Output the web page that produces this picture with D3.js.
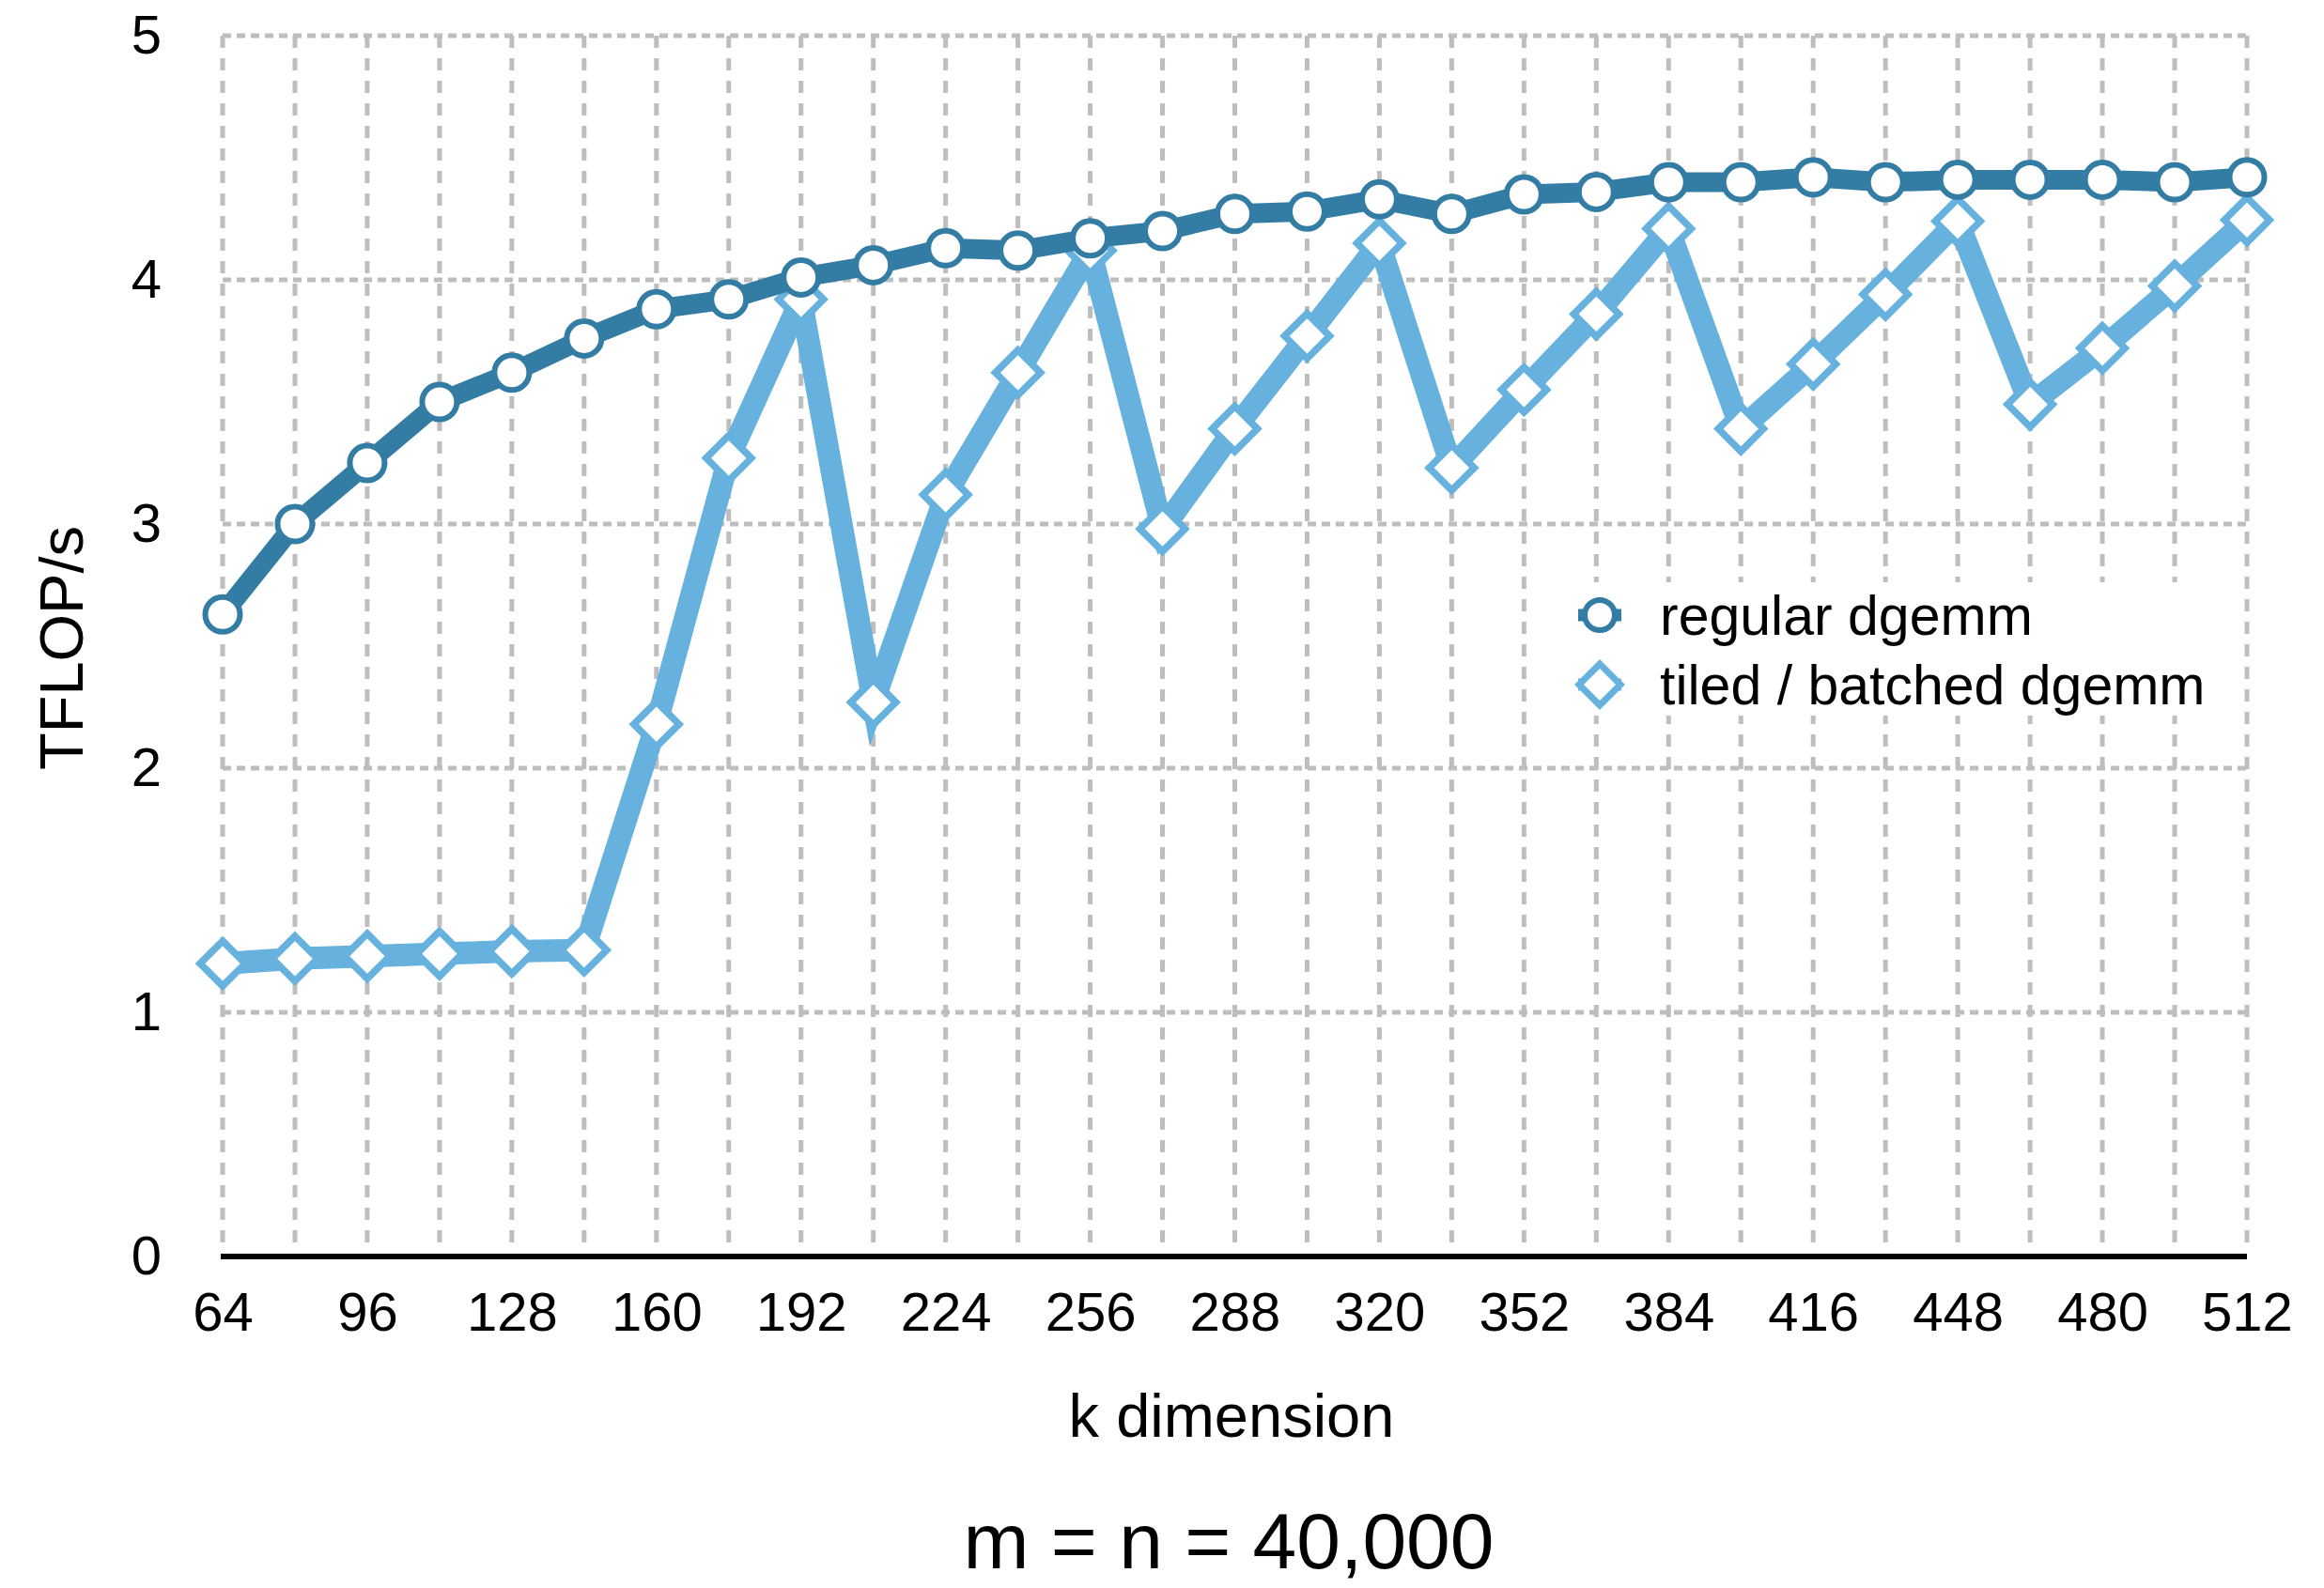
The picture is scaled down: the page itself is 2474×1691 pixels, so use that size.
<!DOCTYPE html>
<html>
<head>
<meta charset="utf-8">
<script src="https://cdn.jsdelivr.net/npm/d3@7"></script>
<style>
  html, body { margin: 0; padding: 0; background: #fff; }
  svg { display: block; }
  text { font-family: 'Liberation Sans', Arial, Helvetica, sans-serif; fill: #000; }
</style>
</head>
<body>
<svg id="chart"></svg>
<script>
// ── DATA ──────────────────────────────────────────────────────────────────────

const kValues = [64, 80, 96, 112, 128, 144, 160, 176, 192, 208, 224, 240, 256, 272, 288,
                 304, 320, 336, 352, 368, 384, 400, 416, 432, 448, 464, 480, 496, 512];

const regularDgemm = [2.63, 3.00, 3.25, 3.50, 3.62, 3.76, 3.88, 3.92, 4.01, 4.06, 4.13, 4.12, 4.17, 4.20, 4.27,
                      4.28, 4.33, 4.27, 4.35, 4.36, 4.40, 4.40, 4.42, 4.40, 4.41, 4.41, 4.41, 4.40, 4.42];

const tiledDgemm = [1.20, 1.22, 1.23, 1.24, 1.25, 1.255, 2.18, 3.27, 3.92, 2.27, 3.12, 3.62, 4.12, 2.98, 3.39,
                    3.77, 4.15, 3.23, 3.55, 3.86, 4.21, 3.39, 3.655, 3.94, 4.24, 3.49, 3.72, 3.975, 4.245];

const xTickLabels = [64, 96, 128, 160, 192, 224, 256, 288, 320, 352, 384, 416, 448, 480, 512];
const yTicks      = [0, 1, 2, 3, 4, 5];
const seriesNames = ['regular dgemm', 'tiled / batched dgemm'];

// ── LAYOUT ────────────────────────────────────────────────────────────────────

const W = 2474, H = 1691;
const COLOR_REG   = '#337da5';
const COLOR_TILED = '#66b1de';
const GRID        = '#bebebe';

const svg = d3.select('#chart').attr('width', W).attr('height', H);

const x = d3.scaleLinear().domain([64, 512]).range([237, 2392]);
const y = d3.scaleLinear().domain([0, 5]).range([1338, 38]);

// ── GRID ──────────────────────────────────────────────────────────────────────

const grid = svg.append('g').attr('class', 'grid');

grid.selectAll('line.vgrid')
  .data(kValues)
  .join('line')
  .attr('class', 'vgrid')
  .attr('x1', d => x(d)).attr('x2', d => x(d))
  .attr('y1', y(5)).attr('y2', y(0) - 7)
  .attr('stroke', GRID)
  .attr('stroke-width', 5)
  .attr('stroke-dasharray', '13 11');

grid.selectAll('line.hgrid')
  .data(yTicks.filter(d => d > 0))
  .join('line')
  .attr('class', 'hgrid')
  .attr('x1', x(64)).attr('x2', x(512))
  .attr('y1', d => y(d)).attr('y2', d => y(d))
  .attr('stroke', GRID)
  .attr('stroke-width', 5)
  .attr('stroke-dasharray', '9 6');

// ── AXES ──────────────────────────────────────────────────────────────────────

const xAxis = svg.append('g')
  .attr('transform', `translate(0,${y(0)})`)
  .call(d3.axisBottom(x).tickValues(xTickLabels).tickSize(0).tickPadding(38));
xAxis.select('.domain').remove();
xAxis.selectAll('text').style('font-size', '58px').attr('fill', '#000');

svg.append('line')
  .attr('x1', x(64) - 2).attr('x2', x(512))
  .attr('y1', y(0)).attr('y2', y(0))
  .attr('stroke', '#000')
  .attr('stroke-width', 6);

const yAxis = svg.append('g')
  .attr('transform', `translate(${x(64)},0)`)
  .call(d3.axisLeft(y).tickValues(yTicks).tickFormat(d3.format('d')).tickSize(0).tickPadding(65));
yAxis.select('.domain').remove();
yAxis.selectAll('text').style('font-size', '58px').attr('fill', '#000');

svg.append('text')
  .attr('transform', `translate(88,690) rotate(-90)`)
  .attr('text-anchor', 'middle')
  .style('font-size', '65px')
  .text('TFLOP/s');

svg.append('text')
  .attr('x', 1311).attr('y', 1530)
  .attr('text-anchor', 'middle')
  .style('font-size', '65px')
  .text('k dimension');

svg.append('text')
  .attr('x', 1308).attr('y', 1670)
  .attr('text-anchor', 'middle')
  .style('font-size', '84px')
  .style('font-weight', 300)
  .text('m = n = 40,000');

// ── SERIES ────────────────────────────────────────────────────────────────────

const line = d3.line().x(d => x(d[0])).y(d => y(d[1]));
const regPts   = kValues.map((k, i) => [k, regularDgemm[i]]);
const tiledPts = kValues.map((k, i) => [k, tiledDgemm[i]]);

const diamond = s => `M0,${-s}L${s},0L0,${s}L${-s},0Z`;

// tiled / batched first (drawn underneath)
svg.append('path')
  .datum(tiledPts)
  .attr('d', line)
  .attr('fill', 'none')
  .attr('stroke', COLOR_TILED)
  .attr('stroke-width', 24)
  .attr('stroke-linejoin', 'miter');

svg.append('g').selectAll('path')
  .data(tiledPts)
  .join('path')
  .attr('transform', d => `translate(${x(d[0])},${y(d[1])})`)
  .attr('d', diamond(24))
  .attr('fill', '#fff')
  .attr('stroke', COLOR_TILED)
  .attr('stroke-width', 7.5);

svg.append('path')
  .datum(regPts)
  .attr('d', line)
  .attr('fill', 'none')
  .attr('stroke', COLOR_REG)
  .attr('stroke-width', 21)
  .attr('stroke-linejoin', 'round');

svg.append('g').selectAll('circle')
  .data(regPts)
  .join('circle')
  .attr('cx', d => x(d[0]))
  .attr('cy', d => y(d[1]))
  .attr('r', 18.5)
  .attr('fill', '#fff')
  .attr('stroke', COLOR_REG)
  .attr('stroke-width', 6);

// ── LEGEND ────────────────────────────────────────────────────────────────────

const legend = svg.append('g').attr('class', 'legend');

legend.append('rect')
  .attr('x', 1652).attr('y', 620)
  .attr('width', 725).attr('height', 142)
  .attr('fill', '#fff');

const lg = legend.selectAll('g.item')
  .data(seriesNames)
  .join('g')
  .attr('class', 'item')
  .attr('transform', (d, i) => `translate(1703,${655 + i * 74})`);

lg.append('line')
  .attr('x1', -23).attr('x2', 23)
  .attr('stroke', (d, i) => i === 0 ? COLOR_REG : COLOR_TILED)
  .attr('stroke-width', 13);

lg.filter((d, i) => i === 0).append('circle')
  .attr('r', 16)
  .attr('fill', '#fff')
  .attr('stroke', COLOR_REG)
  .attr('stroke-width', 6);

lg.filter((d, i) => i === 1).append('path')
  .attr('d', diamond(22))
  .attr('fill', '#fff')
  .attr('stroke', COLOR_TILED)
  .attr('stroke-width', 7);

lg.append('text')
  .attr('x', 64)
  .attr('y', 21)
  .style('font-size', '59px')
  .text(d => d);
</script>
</body>
</html>
